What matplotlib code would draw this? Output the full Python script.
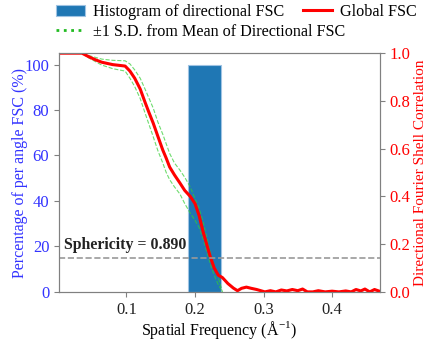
import matplotlib
matplotlib.use("Agg")
import matplotlib.pyplot as plt
from matplotlib.lines import Line2D

plt.rcParams['font.family'] = ['Liberation Serif', 'DejaVu Serif']

# Global FSC
freq = [0.002, 0.035, 0.045, 0.055, 0.064, 0.08, 0.098, 0.105, 0.112, 0.12,
        0.127, 0.133, 0.139, 0.146, 0.153, 0.158, 0.163, 0.17, 0.178, 0.185,
        0.193, 0.2, 0.206, 0.212, 0.217, 0.222, 0.228, 0.234, 0.24, 0.248,
        0.256, 0.262, 0.268, 0.275, 0.282, 0.29, 0.296, 0.302, 0.31, 0.318,
        0.326, 0.334, 0.342, 0.35, 0.357, 0.364, 0.372, 0.38, 0.39, 0.4,
        0.41, 0.42, 0.428, 0.435, 0.442, 0.448, 0.455, 0.462, 0.468]
global_fsc = [1.0, 1.0, 0.985, 0.972, 0.962, 0.952, 0.946, 0.925, 0.895, 0.85,
              0.795, 0.75, 0.707, 0.65, 0.594, 0.56, 0.523, 0.49, 0.456, 0.425,
              0.40, 0.37, 0.32, 0.25, 0.20, 0.15, 0.10, 0.07, 0.06, 0.035,
              0.016, 0.005, 0.015, 0.02, 0.015, 0.01, 0.005, 0.0, 0.005, 0.0,
              0.008, 0.004, 0.01, 0.005, 0.012, 0.0, 0.0, 0.005, 0.0, 0.003,
              0.0, 0.004, 0.0, 0.01, 0.004, 0.012, 0.0, 0.01, 0.004]

# +/-1 S.D. curves
sd_freq = [0.002, 0.035, 0.045, 0.064, 0.08, 0.098, 0.105, 0.112, 0.12, 0.127,
           0.133, 0.139, 0.146, 0.153, 0.158, 0.163, 0.17, 0.178, 0.185, 0.193,
           0.2, 0.206, 0.212, 0.217, 0.222, 0.228, 0.234, 0.24]
sd_upper = [1.0, 1.0, 0.99, 0.975, 0.97, 0.968, 0.955, 0.93, 0.895, 0.85,
            0.81, 0.77, 0.71, 0.66, 0.62, 0.58, 0.54, 0.51, 0.48, 0.44,
            0.39, 0.35, 0.29, 0.23, 0.17, 0.11, 0.06, 0.0]
sd_lower = [1.0, 1.0, 0.98, 0.95, 0.935, 0.925, 0.895, 0.86, 0.81, 0.75,
            0.70, 0.65, 0.59, 0.54, 0.50, 0.47, 0.44, 0.41, 0.37, 0.33,
            0.30, 0.27, 0.22, 0.17, 0.12, 0.07, 0.03, 0.0]

# histogram of directional FSC
hist_center = [0.214]
hist_percent = [100]
hist_width = 0.047

sphericity = 0.890
threshold = 0.143

fig = plt.figure(figsize=(4.26, 3.43), dpi=100)
ax1 = fig.add_axes([0.1385, 0.149, 0.7535, 0.696])
ax2 = ax1.twinx()

bars = ax1.bar(hist_center, hist_percent, width=hist_width, color='#1f77b4',
               edgecolor='#9fc3e3', linewidth=0.8)
ax1.set_ylim(0, 105)
ax1.set_xlim(0.0015, 0.47)

ax2.plot(sd_freq, sd_upper, color='limegreen', ls='--', lw=0.8, alpha=0.7)
ax2.plot(sd_freq, sd_lower, color='limegreen', ls='--', lw=0.8, alpha=0.7)
ax2.plot(freq, global_fsc, color='red', lw=2.2)
ax2.axhline(threshold, color='#999999', ls='--', lw=1.2)
ax2.set_ylim(0, 1.0)
ax2.text(0.009, 0.178, 'Sphericity = %.3f' % sphericity, fontsize=11.4,
         fontweight='bold', color='#222222')

ax1.set_xticks([0.1, 0.2, 0.3, 0.4])
ax1.set_yticks([0, 20, 40, 60, 80, 100])
ax2.set_yticks([0.0, 0.2, 0.4, 0.6, 0.8, 1.0])

ax1.set_xlabel('Spatial Frequency (Å$^{\\mathregular{-1}}$)', fontsize=11.5)
ax1.set_ylabel('Percentage of per angle FSC (%)', fontsize=11.5, color='#3333ff')
ax2.set_ylabel('Directional Fourier Shell Correlation', fontsize=11, color='red')
ax1.xaxis.set_label_coords(0.5, -0.115)
ax1.yaxis.set_label_coords(-0.097, 0.5)
ax2.yaxis.set_label_coords(1.106, 0.5)

ax1.tick_params(axis='y', colors='#808080', labelcolor='#3333ff', labelsize=12)
ax1.tick_params(axis='x', colors='#808080', labelcolor='#222222', labelsize=12)
ax2.tick_params(axis='y', colors='#808080', labelcolor='red', labelsize=12)
for ax in (ax1, ax2):
    for sp in ax.spines.values():
        sp.set_color('#808080')

# legend: two rows placed by hand
fig.legend([bars, Line2D([], [], color='red', lw=2.2)],
           ['Histogram of directional FSC', 'Global FSC'],
           ncol=2, frameon=False, fontsize=11.6, loc='upper left',
           bbox_to_anchor=(56 / 426, 1 - 4 / 343), borderpad=0,
           borderaxespad=0, handlelength=1.8, handletextpad=0.5,
           columnspacing=1.15)
fig.legend([Line2D([], [], color='#22bb22', ls=':', lw=2)],
           ['±1 S.D. from Mean of Directional FSC'],
           frameon=False, fontsize=11.6, loc='upper left',
           bbox_to_anchor=(56 / 426, 1 - 24 / 343), borderpad=0,
           borderaxespad=0, handlelength=1.8, handletextpad=0.5)

fig.savefig('out.png', dpi=100)
